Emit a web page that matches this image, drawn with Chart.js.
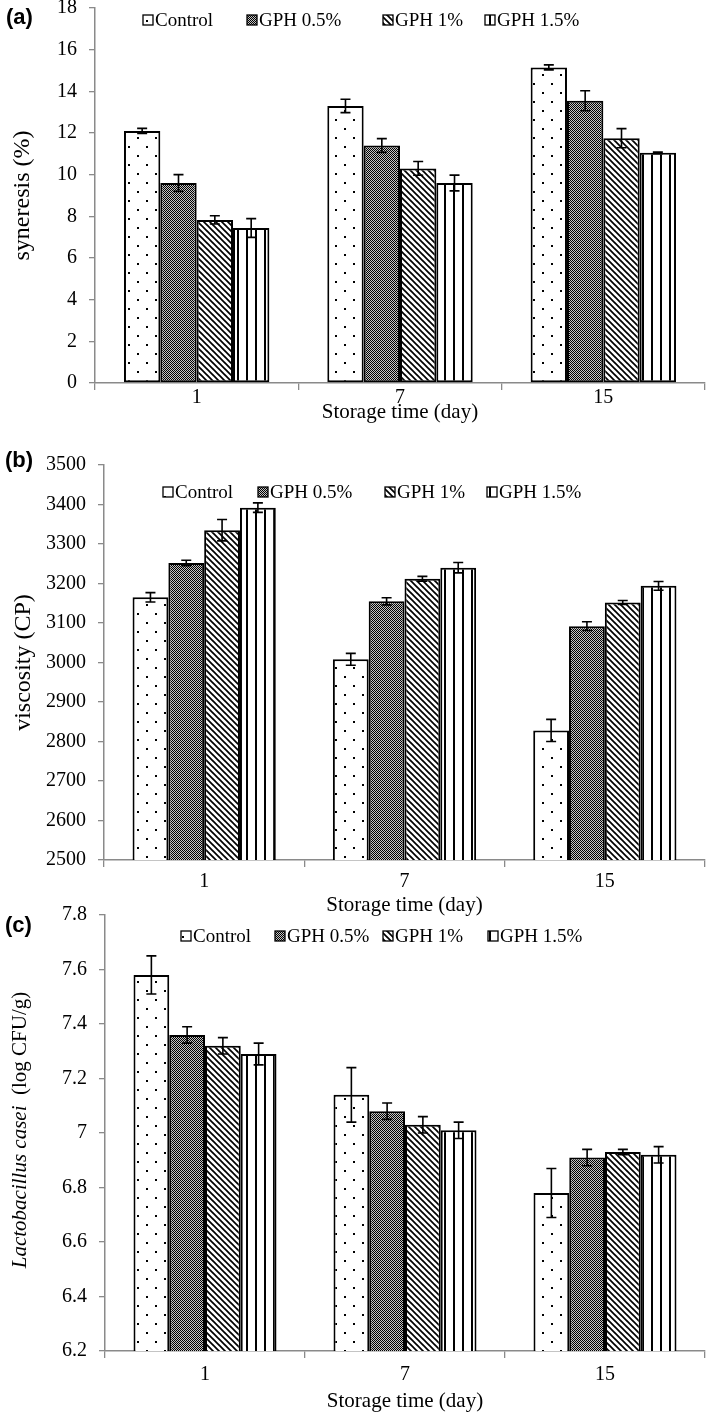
<!DOCTYPE html>
<html><head><meta charset="utf-8">
<script src="https://cdn.jsdelivr.net/npm/chart.js@4.4.1/dist/chart.umd.min.js"></script>
<style>
html,body{margin:0;padding:0;background:#fff;width:709px;height:1414px;overflow:hidden;position:relative}
.panel{position:absolute;left:0;width:709px}
canvas{display:block}
</style></head><body>
<div class="panel" style="top:0;height:425px"><canvas id="ca" width="709" height="425"></canvas></div>
<div class="panel" style="top:440px;height:478px"><canvas id="cb" width="709" height="478"></canvas></div>
<div class="panel" style="top:898px;height:516px"><canvas id="cc" width="709" height="516"></canvas></div>
<script>
// ---------- data ----------
const categories = ['1', '7', '15'];
const seriesNames = ['Control', 'GPH 0.5%', 'GPH 1%', 'GPH 1.5%'];

// (a) syneresis (%)
const synControl = [12.1, 13.3, 15.15];
const synGPH05   = [9.6, 11.4, 13.55];
const synGPH1    = [7.83, 10.3, 11.75];
const synGPH15   = [7.44, 9.6, 11.05];
const synErrControl = [0.12, 0.32, 0.12];
const synErrGPH05   = [0.4, 0.33, 0.48];
const synErrGPH1    = [0.2, 0.33, 0.46];
const synErrGPH15   = [0.45, 0.38, 0.04];
const synTicks = [0, 2, 4, 6, 8, 10, 12, 14, 16, 18];

// (b) viscosity (CP)
const visControl = [3165, 3008, 2828];
const visGPH05   = [3252, 3155, 3092];
const visGPH1    = [3335, 3212, 3152];
const visGPH15   = [3392, 3240, 3194];
const visErrControl = [12, 15, 28];
const visErrGPH05   = [7, 9, 11];
const visErrGPH1    = [27, 6, 5];
const visErrGPH15   = [12, 13, 11];
const visTicks = [2500, 2600, 2700, 2800, 2900, 3000, 3100, 3200, 3300, 3400, 3500];

// (c) Lactobacillus casei (log CFU/g)
const lacControl = [7.58, 7.14, 6.78];
const lacGPH05   = [7.36, 7.08, 6.91];
const lacGPH1    = [7.32, 7.03, 6.93];
const lacGPH15   = [7.29, 7.01, 6.92];
const lacErrControl = [0.07, 0.1, 0.09];
const lacErrGPH05   = [0.03, 0.03, 0.03];
const lacErrGPH1    = [0.03, 0.03, 0.01];
const lacErrGPH15   = [0.04, 0.03, 0.03];
const lacTicks = [6.2, 6.4, 6.6, 6.8, 7, 7.2, 7.4, 7.6, 7.8];

// ---------- patterns ----------
function makePattern(type) {
  const c = document.createElement('canvas');
  const x = c.getContext('2d');
  if (type === 'dots') {
    c.width = 18; c.height = 18;
    x.fillStyle = '#fff'; x.fillRect(0, 0, 18, 18);
    x.fillStyle = '#000'; x.fillRect(2, 2, 2, 2); x.fillRect(11, 11, 2, 2);
  } else if (type === 'checker') {
    c.width = 2; c.height = 2;
    x.fillStyle = '#c4c4c4'; x.fillRect(0, 0, 2, 2);
    x.fillStyle = '#000';
    x.fillRect(0, 0, 1, 1); x.fillRect(1, 1, 1, 1);
  } else if (type === 'diag') {
    c.width = 6; c.height = 6;
    x.fillStyle = '#fff'; x.fillRect(0, 0, 6, 6);
    x.strokeStyle = '#000'; x.lineWidth = 1.7;
    for (const o of [-6, 0, 6]) { x.beginPath(); x.moveTo(o - 1, -1); x.lineTo(o + 7, 7); x.stroke(); }
  } else if (type === 'vert') {
    c.width = 9; c.height = 4;
    x.fillStyle = '#fff'; x.fillRect(0, 0, 9, 4);
    x.fillStyle = '#000'; x.fillRect(3, 0, 2, 4);
  }
  return x.createPattern(c, 'repeat');
}
const patternTypes = ['dots', 'checker', 'diag', 'vert'];

const SERIF = "'Liberation Serif', 'Times New Roman', serif";
const SANS = "'Liberation Sans', Arial, sans-serif";

// ---------- plugins ----------
const errorBarPlugin = {
  id: 'errorBars',
  afterDatasetsDraw(chart) {
    const ctx = chart.ctx;
    const ys = chart.scales.y;
    ctx.save();
    ctx.strokeStyle = '#000';
    ctx.lineWidth = 1.6;
    chart.data.datasets.forEach((ds, i) => {
      const meta = chart.getDatasetMeta(i);
      meta.data.forEach((bar, j) => {
        const v = ds.data[j], e = ds.errors[j];
        const x = bar.x;
        const y1 = ys.getPixelForValue(v + e), y2 = ys.getPixelForValue(v - e);
        const cap = 5;
        ctx.beginPath();
        ctx.moveTo(x, y1); ctx.lineTo(x, y2);
        ctx.moveTo(x - cap, y1); ctx.lineTo(x + cap, y1);
        ctx.moveTo(x - cap, y2); ctx.lineTo(x + cap, y2);
        ctx.stroke();
      });
    });
    ctx.restore();
  }
};

const decorPlugin = {
  id: 'decor',
  afterDraw(chart, args, opts) {
    const ctx = chart.ctx;
    ctx.save();
    ctx.fillStyle = '#000';
    ctx.font = 'bold 22px ' + SANS;
    ctx.textBaseline = 'middle';
    ctx.textAlign = 'left';
    ctx.fillText(opts.panel, opts.panelX, opts.panelY);
    ctx.font = '19px ' + SERIF;
    chart.data.datasets.forEach((ds, i) => {
      const bx = opts.legendX[i], by = opts.legendY;
      ctx.fillStyle = ds.backgroundColor;
      ctx.fillRect(bx, by - 5, 10, 10);
      ctx.strokeStyle = '#000'; ctx.lineWidth = 1.3;
      ctx.strokeRect(bx, by - 5, 10, 10);
      ctx.fillStyle = '#000';
      ctx.fillText(ds.label, bx + 12, by + 1);
    });
    if (opts.yTitleParts) {
      ctx.translate(opts.yTitleX, opts.yTitleY);
      ctx.rotate(-Math.PI / 2);
      let total = 0;
      opts.yTitleParts.forEach(p => { ctx.font = p.font; total += ctx.measureText(p.text).width; });
      let cx = -total / 2;
      ctx.textAlign = 'left';
      opts.yTitleParts.forEach(p => { ctx.font = p.font; ctx.fillText(p.text, cx, 0); cx += ctx.measureText(p.text).width; });
    }
    ctx.restore();
  }
};

function buildDatasets(values, errors) {
  return seriesNames.map((name, i) => ({
    label: name,
    data: values[i],
    errors: errors[i],
    backgroundColor: makePattern(patternTypes[i]),
    borderColor: '#000',
    borderWidth: 2,
    borderSkipped: false,
    categoryPercentage: 0.715,
    barPercentage: 1.0
  }));
}

function makeChart(id, cfg) {
  return new Chart(document.getElementById(id), {
    type: 'bar',
    data: { labels: categories, datasets: buildDatasets(cfg.values, cfg.errors) },
    options: {
      responsive: false,
      animation: false,
      devicePixelRatio: 1,
      layout: { padding: { top: cfg.padTop, right: 4, left: cfg.padLeft, bottom: 0 } },
      plugins: {
        legend: { display: false },
        tooltip: { enabled: false },
        decor: cfg.decor
      },
      scales: {
        x: {
          grid: { display: true, offset: true, drawOnChartArea: false, drawTicks: true, tickLength: 7, color: '#8a8a8a', lineWidth: 1.3 },
          border: { color: '#8a8a8a', width: 1.5 },
          ticks: { color: '#000', font: { family: SERIF, size: 20 }, padding: cfg.xTickPad },
          title: { display: true, text: 'Storage time (day)', color: '#000', font: { family: SERIF, size: 21 }, padding: 0 },
          afterFit(s) { s.height = cfg.xHeight; s.paddingLeft = 0; s.paddingRight = 0; }
        },
        y: {
          min: cfg.min, max: cfg.max,
          afterBuildTicks(s) { s.ticks = cfg.ticks.map(v => ({ value: v })); },
          grid: { display: true, drawOnChartArea: false, drawTicks: true, tickLength: 6, color: '#8a8a8a', lineWidth: 1.3 },
          border: { color: '#8a8a8a', width: 1.5 },
          ticks: { color: '#000', font: { family: SERIF, size: 20 }, padding: 12, callback: v => String(v) },
          title: cfg.yTitle ? { display: true, text: cfg.yTitle, color: '#000', font: { family: SERIF, size: 24 }, padding: 0 } : { display: false },
          afterFit(s) { s.width = cfg.yWidth - cfg.padLeft; s.paddingTop = 0; s.paddingBottom = 0; }
        }
      }
    },
    plugins: [errorBarPlugin, decorPlugin]
  });
}

makeChart('ca', {
  values: [synControl, synGPH05, synGPH1, synGPH15],
  errors: [synErrControl, synErrGPH05, synErrGPH1, synErrGPH15],
  ticks: synTicks, min: 0, max: 18,
  padTop: 8, padLeft: 8, xHeight: 42, yWidth: 95, xTickPad: -4,
  yTitle: 'syneresis (%)',
  decor: { panel: '(a)', panelX: 6, panelY: 18, legendX: [143, 247, 383, 485], legendY: 20 }
});

makeChart('cb', {
  values: [visControl, visGPH05, visGPH1, visGPH15],
  errors: [visErrControl, visErrGPH05, visErrGPH1, visErrGPH15],
  ticks: visTicks, min: 2500, max: 3500,
  padTop: 25, padLeft: 9, xHeight: 58, yWidth: 104, xTickPad: 3,
  yTitle: 'viscosity (CP)',
  decor: { panel: '(b)', panelX: 5, panelY: 21, legendX: [163, 258, 385, 487], legendY: 52 }
});

makeChart('cc', {
  values: [lacControl, lacGPH05, lacGPH1, lacGPH15],
  errors: [lacErrControl, lacErrGPH05, lacErrGPH1, lacErrGPH15],
  ticks: lacTicks, min: 6.2, max: 7.8,
  padTop: 17, padLeft: 0, xHeight: 63, yWidth: 105, xTickPad: 5,
  yTitle: null,
  decor: { panel: '(c)', panelX: 5, panelY: 28, legendX: [181, 275, 383, 488], legendY: 38,
    yTitleX: 20, yTitleY: 232,
    yTitleParts: [
      { text: 'Lactobacillus casei', font: 'italic 21px ' + SERIF },
      { text: '  (log CFU/g)', font: '21px ' + SERIF }
    ] }
});
</script>
</body></html>
